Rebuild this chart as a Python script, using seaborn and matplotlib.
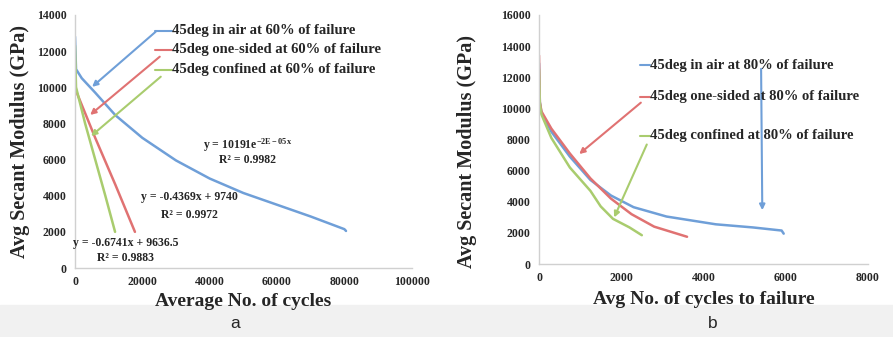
import numpy as np
import pandas as pd
import matplotlib
matplotlib.use("Agg")
import matplotlib.pyplot as plt
import seaborn as sns

# panel a: 60% of failure
a_air_x = [0, 300, 2000, 6000, 12000, 20000, 30000, 40000, 50000, 60000, 70000, 75000, 80000, 80500]
a_air_y = [12800, 11000, 10500, 9700, 8450, 7200, 5950, 4950, 4150, 3500, 2850, 2500, 2150, 2050]
a_one_x = [0, 300, 6000, 12000, 17800]
a_one_y = [10200, 9800, 7200, 4600, 2000]
a_con_x = [0, 300, 3000, 6000, 9000, 11900]
a_con_y = [12300, 10000, 8000, 6000, 4000, 2000]

# panel b: 80% of failure
b_air_x = [0, 20, 60, 300, 750, 1250, 1750, 2300, 3100, 4300, 5200, 5900, 5950]
b_air_y = [12900, 10400, 9700, 8500, 6900, 5400, 4400, 3650, 3050, 2550, 2350, 2150, 1950]
b_one_x = [0, 20, 60, 300, 750, 1250, 1750, 2250, 2800, 3600]
b_one_y = [13400, 10400, 9800, 8700, 7100, 5500, 4200, 3200, 2400, 1750]
b_con_x = [0, 20, 60, 300, 750, 1250, 1500, 1800, 2200, 2500]
b_con_y = [12500, 10300, 9600, 8100, 6200, 4700, 3700, 2900, 2350, 1850]

labels_a = ["45deg in air at 60% of failure",
            "45deg one-sided at 60% of failure",
            "45deg confined at 60% of failure"]
labels_b = ["45deg in air at 80% of failure",
            "45deg one-sided at 80% of failure",
            "45deg confined at 80% of failure"]

blue = "#6f9fd8"
red = "#e07272"
green = "#a9cc6e"
colors = [blue, red, green]

sns.set_style("white")
plt.rcParams['font.family'] = ['Liberation Serif', 'DejaVu Serif']
plt.rcParams['mathtext.fontset'] = 'custom'
plt.rcParams['mathtext.rm'] = 'Liberation Serif:bold'
plt.rcParams['mathtext.it'] = 'Liberation Serif:bold'
plt.rcParams['mathtext.bf'] = 'Liberation Serif:bold'

fig = plt.figure(figsize=(8.93, 3.37), dpi=100)
fig.patches.append(plt.Rectangle((0, 0), 1, 0.095, transform=fig.transFigure,
                                 color="#f1f1f1", zorder=-10))

ax1 = fig.add_axes([0.084, 0.2047, 0.377, 0.751])
ax2 = fig.add_axes([0.6036, 0.2166, 0.3684, 0.739])
ax1.patch.set_alpha(0)
ax2.patch.set_alpha(0)


def style_axis(ax, xmax, ymax, step_x):
    ax.set_xlim(0, xmax)
    ax.set_ylim(0, ymax)
    ax.set_xticks(np.arange(0, xmax + 1, step_x))
    ax.set_yticks(np.arange(0, ymax + 1, 2000))
    for s in ["top", "right"]:
        ax.spines[s].set_visible(False)
    for s in ["left", "bottom"]:
        ax.spines[s].set_color("#d0d0d0")
        ax.spines[s].set_linewidth(1.0)
    ax.tick_params(axis="both", length=3, width=0.8, color="#d0d0d0",
                   labelsize=8.5, pad=3)
    for t in ax.get_xticklabels() + ax.get_yticklabels():
        t.set_fontweight("bold")
    ax.set_ylabel("Avg Secant Modulus (GPa)", fontsize=14.5, fontweight="bold")


# panel a lines
for xs, ys, c in zip([a_air_x, a_one_x, a_con_x], [a_air_y, a_one_y, a_con_y], colors):
    sns.lineplot(x=xs, y=ys, ax=ax1, color=c, linewidth=1.8, sort=False)
style_axis(ax1, 100000, 14000, 20000)
ax1.set_xlabel("Average No. of cycles", fontsize=14, fontweight="bold")
ax1.yaxis.set_label_coords(-0.135, 0.5)
ax1.xaxis.set_label_coords(0.5, -0.097)

# legend-like labels with arrows (panel a)
leg_y_a = [0.937, 0.862, 0.783]
arrow_a = [(0.246, 0.941, 4450, 9920), (0.258, 0.842, 3860, 8370), (0.261, 0.763, 4150, 7200)]
for lab, c, yy, (fx, fy, tx, ty) in zip(labels_a, colors, leg_y_a, arrow_a):
    ax1.plot([0.237, 0.288], [yy, yy], transform=ax1.transAxes, color=c, lw=1.5)
    ax1.text(0.288, yy, lab, transform=ax1.transAxes, fontsize=10.5, fontweight="bold",
             va="center", ha="left")
    ax1.annotate("", xy=(tx, ty), xycoords="data", xytext=(fx, fy), textcoords="axes fraction",
                 arrowprops=dict(arrowstyle="-|>", color=c, lw=1.5, mutation_scale=8))

eq_kw = dict(transform=ax1.transAxes, fontsize=8.5, fontweight="bold", ha="center", va="center")
ax1.text(0.513, 0.486, r"y = 10191e$^{-2E-05x}$", **eq_kw)
ax1.text(0.513, 0.427, "R² = 0.9982", **eq_kw)
ax1.text(0.341, 0.281, "y = -0.4369x + 9740", **eq_kw)
ax1.text(0.341, 0.209, "R² = 0.9972", **eq_kw)
ax1.text(0.151, 0.099, "y = -0.6741x + 9636.5", **eq_kw)
ax1.text(0.151, 0.040, "R² = 0.9883", **eq_kw)

# panel b lines
for xs, ys, c in zip([b_air_x, b_one_x, b_con_x], [b_air_y, b_one_y, b_con_y], colors):
    sns.lineplot(x=xs, y=ys, ax=ax2, color=c, linewidth=1.8, sort=False)
style_axis(ax2, 8000, 16000, 2000)
ax2.set_xlabel("Avg No. of cycles to failure", fontsize=14, fontweight="bold")
ax2.yaxis.set_label_coords(-0.19, 0.45)
ax2.xaxis.set_label_coords(0.5, -0.11)

leg_y_b = [0.799, 0.671, 0.514]
arrow_b = [(0.675, 0.795, 5430, 3280), (0.316, 0.655, 925, 6950), (0.331, 0.49, 1800, 2830)]
for lab, c, yy, (fx, fy, tx, ty) in zip(labels_b, colors, leg_y_b, arrow_b):
    ax2.plot([0.307, 0.337], [yy, yy], transform=ax2.transAxes, color=c, lw=1.5)
    ax2.text(0.337, yy, lab, transform=ax2.transAxes, fontsize=10.5, fontweight="bold",
             va="center", ha="left")
    ax2.annotate("", xy=(tx, ty), xycoords="data", xytext=(fx, fy), textcoords="axes fraction",
                 arrowprops=dict(arrowstyle="-|>", color=c, lw=1.5, mutation_scale=8))

# panel letters
fig.text(235 / 893, 1 - 323 / 337, "a", fontsize=12.5, family="Liberation Sans",
         ha="center", va="center")
fig.text(713 / 893, 1 - 323 / 337, "b", fontsize=12.5, family="Liberation Sans",
         ha="center", va="center")

fig.savefig("out.png", dpi=100)
